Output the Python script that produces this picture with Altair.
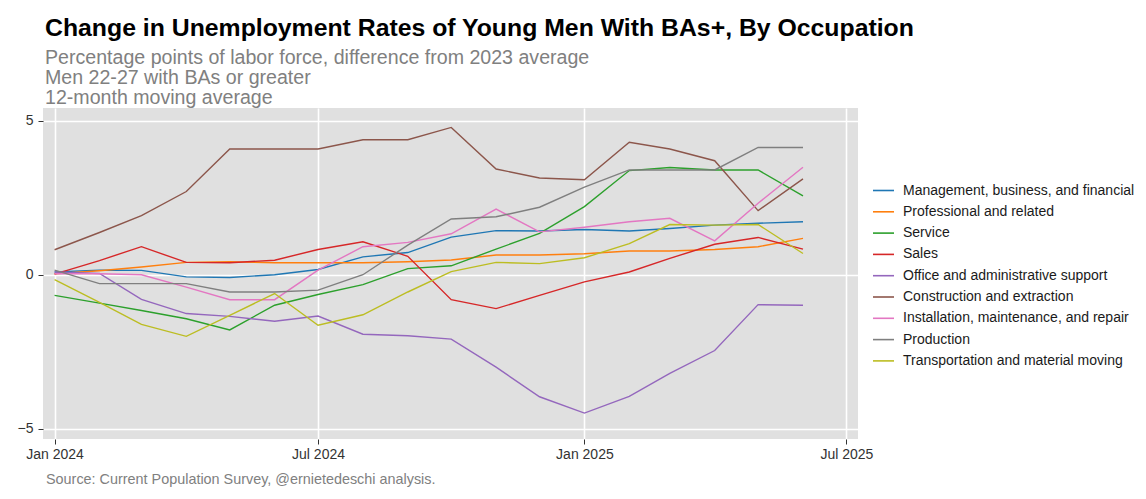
import altair as alt
import pandas as pd

months = ["2024-01-01", "2024-02-01", "2024-03-01", "2024-04-01", "2024-05-01", "2024-06-01",
          "2024-07-01", "2024-08-01", "2024-09-01", "2024-10-01", "2024-11-01", "2024-12-01",
          "2025-01-01", "2025-02-01", "2025-03-01", "2025-04-01", "2025-05-01", "2025-06-01"]

categories = ["Management, business, and financial", "Professional and related", "Service", "Sales",
              "Office and administrative support", "Construction and extraction",
              "Installation, maintenance, and repair", "Production", "Transportation and material moving"]

colors = ["#1f77b4", "#ff7f0e", "#2ca02c", "#d62728", "#9467bd", "#8c564b", "#e377c2", "#7f7f7f", "#bcbd22"]

management = [0.09, 0.15, 0.14, -0.07, -0.09, 0.00, 0.17, 0.58, 0.72, 1.22, 1.43, 1.42, 1.47, 1.42, 1.50, 1.61, 1.67, 1.72]
professional = [0.03, 0.13, 0.25, 0.40, 0.42, 0.39, 0.39, 0.39, 0.42, 0.48, 0.64, 0.64, 0.68, 0.77, 0.77, 0.82, 0.91, 1.18]
service = [-0.67, -0.92, -1.16, -1.43, -1.79, -0.99, -0.64, -0.32, 0.20, 0.29, 0.83, 1.34, 2.21, 3.38, 3.48, 3.40, 3.40, 2.56]
sales = [0.02, 0.46, 0.91, 0.40, 0.39, 0.47, 0.82, 1.07, 0.60, -0.81, -1.10, -0.67, -0.23, 0.09, 0.53, 0.99, 1.21, 0.83]
office = [0.09, 0.04, -0.80, -1.26, -1.35, -1.51, -1.34, -1.93, -1.98, -2.09, -3.00, -3.96, -4.49, -3.95, -3.20, -2.46, -0.97, -0.99]
construction = [0.81, 1.37, 1.92, 2.70, 4.08, 4.08, 4.08, 4.38, 4.38, 4.78, 3.43, 3.14, 3.08, 4.30, 4.08, 3.70, 2.08, 3.11]
installation = [0.03, 0.03, 0.00, -0.40, -0.81, -0.81, 0.15, 0.91, 1.05, 1.33, 2.13, 1.39, 1.54, 1.72, 1.83, 1.10, 2.32, 3.49]
production = [0.15, -0.29, -0.29, -0.29, -0.56, -0.56, -0.50, 0.00, 0.96, 1.81, 1.88, 2.19, 2.84, 3.40, 3.40, 3.40, 4.13, 4.13]
transportation = [-0.16, -0.90, -1.61, -2.00, -1.32, -0.61, -1.64, -1.30, -0.56, 0.10, 0.40, 0.36, 0.55, 1.01, 1.63, 1.61, 1.63, 0.69]

series = [management, professional, service, sales, office, construction, installation, production, transportation]

title_text = "Change in Unemployment Rates of Young Men With BAs+, By Occupation"
subtitle_lines = ["Percentage points of labor force, difference from 2023 average",
                  "Men 22-27 with BAs or greater",
                  "12-month moving average"]
caption = "Source: Current Population Survey, @ernietedeschi analysis."

rows = []
for cat, vals in zip(categories, series):
    for m, v in zip(months, vals):
        rows.append({"date": m + "T00:00:00", "occupation": cat, "value": v})
df = pd.DataFrame(rows)

W, H = 815, 331
FONT = "Liberation Sans"

lines = alt.Chart(df).mark_line(strokeWidth=1.4).encode(
    x=alt.X("date:T",
            scale=alt.Scale(domain=[alt.DateTime(year=2023, month=12, date=24),
                                    alt.DateTime(year=2025, month=7, date=9)]),
            axis=alt.Axis(title=None, format="%b %Y",
                          values=[alt.DateTime(year=2024, month=1, date=1),
                                  alt.DateTime(year=2024, month=7, date=1),
                                  alt.DateTime(year=2025, month=1, date=1),
                                  alt.DateTime(year=2025, month=7, date=1)],
                          labelPadding=3)),
    y=alt.Y("value:Q", scale=alt.Scale(domain=[-5.33, 5.41], nice=False, zero=False),
            axis=alt.Axis(title=None, values=[-5, 0, 5], labelPadding=5)),
    color=alt.Color("occupation:N", sort=categories,
                    scale=alt.Scale(domain=categories, range=colors),
                    legend=alt.Legend(title=None, orient="none", legendX=829, legendY=71,
                                      symbolType="stroke", symbolSize=441, symbolStrokeWidth=1.6,
                                      labelFontSize=14, labelFont=FONT, labelColor="#1a1a1a",
                                      rowPadding=2.3, labelOffset=8, padding=0, labelLimit=400)),
    detail="occupation:N",
)

cap = alt.Chart(pd.DataFrame({"t": [caption]})).mark_text(
    align="left", baseline="alphabetic", fontSize=14.4, font=FONT, color="#808080"
).encode(x=alt.value(3), y=alt.value(376), text="t:N")

chart = alt.layer(lines, cap).properties(
    width=W, height=H,
    background="#ffffff",
    autosize=alt.AutoSizeParams(type="none"),
    padding={"left": 35, "top": 100, "right": 280, "bottom": 52},
    title=alt.TitleParams(text=title_text, subtitle=subtitle_lines, anchor="start", frame="group",
                          font=FONT, fontSize=24.8, fontWeight="bold", color="#000000",
                          subtitleFont=FONT, subtitleFontSize=19.6, subtitleColor="#808080",
                          subtitleLineHeight=20, subtitlePadding=9, offset=0, dx=2),
).configure_view(fill="#e0e0e0", stroke=None).configure_axis(
    domain=False, grid=True, gridColor="#ffffff", gridWidth=1.6,
    tickColor="#333333", tickSize=5, tickWidth=1,
    labelColor="#333333", labelFontSize=14, labelFont=FONT,
)

chart.save("out.html", embed_options={"renderer": "svg", "actions": False})
